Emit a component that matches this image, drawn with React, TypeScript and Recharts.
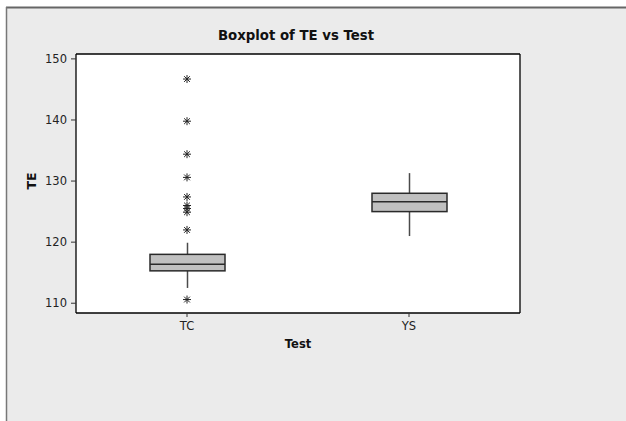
import React from 'react';
import { ComposedChart, Bar, Scatter, XAxis, YAxis, CartesianGrid } from 'recharts';

const categories = ['TC', 'YS'];
const whiskerLow = [112.5, 121.0];
const q1 = [115.3, 125.0];
const median = [116.4, 126.6];
const q3 = [118.0, 128.0];
const whiskerHigh = [119.9, 131.3];
const outlierCategory = ['TC', 'TC', 'TC', 'TC', 'TC', 'TC', 'TC', 'TC', 'TC', 'TC', 'YS'];
const outlierValues = [146.7, 139.8, 134.4, 130.6, 127.4, 126.0, 125.5, 124.9, 122.0, 110.6, null];
const yTicks = [110, 120, 130, 140, 150];
const yDomain = [108.4, 150.8];

const boxData = categories.map((c, i) => ({
  test: c,
  range: [whiskerLow[i], whiskerHigh[i]],
  lo: whiskerLow[i],
  q1: q1[i],
  med: median[i],
  q3: q3[i],
  hi: whiskerHigh[i],
}));

const outlierData = outlierValues.map((v, i) => ({ test: outlierCategory[i], te: v }));

const FONT = '"DejaVu Sans", Verdana, sans-serif';

const BoxShape = (props: any) => {
  const { x, y, width, height, payload } = props;
  if (payload == null || x == null) return null;
  const top = Math.min(y, y + height);
  const h = Math.abs(height);
  const { lo, hi } = payload;
  const toPx = (v: number) => top + ((hi - v) / (hi - lo)) * h;
  const cx = x + width / 2;
  const yQ3 = toPx(payload.q3);
  const yQ1 = toPx(payload.q1);
  const yMed = toPx(payload.med);
  return (
    <g>
      <line x1={cx} x2={cx} y1={top} y2={yQ3} stroke="#4a4a4a" strokeWidth={1.5} />
      <line x1={cx} x2={cx} y1={yQ1} y2={top + h} stroke="#4a4a4a" strokeWidth={1.5} />
      <rect x={x} y={yQ3} width={width} height={yQ1 - yQ3} fill="#c0c0c0" stroke="#2a2a2a" strokeWidth={1.5} />
      <line x1={x} x2={x + width} y1={yMed} y2={yMed} stroke="#2a2a2a" strokeWidth={1.5} />
    </g>
  );
};

const Asterisk = (props: any) => {
  const { cx, cy, payload } = props;
  if (cx == null || cy == null || !isFinite(cx) || !isFinite(cy)) return null;
  if (payload && payload.te == null) return null;
  const r = 4;
  const d = r * 0.72;
  return (
    <g stroke="#222" strokeWidth={1}>
      <line x1={cx - r} x2={cx + r} y1={cy} y2={cy} />
      <line x1={cx} x2={cx} y1={cy - r} y2={cy + r} />
      <line x1={cx - d} x2={cx + d} y1={cy - d} y2={cy + d} />
      <line x1={cx - d} x2={cx + d} y1={cy + d} y2={cy - d} />
    </g>
  );
};

export default function App() {
  return (
    <div style={{ position: 'absolute', left: 0, top: 0, width: 626, height: 421, background: '#fff' }}>
      <svg width={626} height={421} style={{ position: 'absolute', left: 0, top: 0 }}>
        <rect x={6} y={7} width={620} height={414} fill="#ebebeb" />
        <line x1={6} x2={626} y1={7.5} y2={7.5} stroke="#666" strokeWidth={2} />
        <line x1={6.5} x2={6.5} y1={7} y2={421} stroke="#777" strokeWidth={1.5} />
      </svg>
      <div style={{ position: 'absolute', left: 0, top: 0 }}>
        <ComposedChart
          width={626}
          height={421}
          data={boxData}
          margin={{ top: 53, right: 105, bottom: 68, left: 0 }}
        >
          <CartesianGrid horizontal={false} vertical={false} fill="#ffffff" fillOpacity={1} />
          <XAxis
            dataKey="test"
            type="category"
            allowDuplicatedCategory={false}
            height={40}
            tickSize={4}
            tickMargin={5}
            axisLine={{ stroke: '#000', strokeWidth: 1.3 }}
            tickLine={{ stroke: '#333' }}
            tick={{ fill: '#222', fontSize: 11.5, fontFamily: FONT }}
          />
          <XAxis
            xAxisId="top"
            orientation="top"
            dataKey="test"
            type="category"
            allowDuplicatedCategory={false}
            height={1}
            tick={false}
            tickLine={false}
            axisLine={{ stroke: '#000', strokeWidth: 1.3 }}
          />
          <YAxis
            type="number"
            domain={yDomain}
            ticks={yTicks}
            width={76}
            tickSize={5}
            tickMargin={4}
            axisLine={{ stroke: '#000', strokeWidth: 1.3 }}
            tickLine={{ stroke: '#333' }}
            tick={{ fill: '#222', fontSize: 11.5, fontFamily: FONT }}
          />
          <YAxis
            yAxisId="right"
            orientation="right"
            type="number"
            domain={yDomain}
            ticks={yTicks}
            width={1}
            tick={false}
            tickLine={false}
            axisLine={{ stroke: '#000', strokeWidth: 1.3 }}
          />
          <Bar dataKey="range" barSize={75} shape={<BoxShape />} isAnimationActive={false} />
          <Scatter
            data={outlierData}
            dataKey="te"
            xAxisId="top"
            yAxisId="right"
            shape={<Asterisk />}
            isAnimationActive={false}
          />
        </ComposedChart>
      </div>
      <svg width={626} height={421} style={{ position: 'absolute', left: 0, top: 0, pointerEvents: 'none' }}>
        <text x={296} y={40} textAnchor="middle" fontFamily={FONT} fontWeight="bold" fontSize={13.3} fill="#111">
          Boxplot of TE vs Test
        </text>
        <text x={298} y={348} textAnchor="middle" fontFamily={FONT} fontWeight="bold" fontSize={11.5} fill="#111">
          Test
        </text>
        <text
          x={35.5}
          y={181}
          textAnchor="middle"
          fontFamily={FONT}
          fontWeight="bold"
          fontSize={12.5}
          fill="#111"
          transform="rotate(-90 35.5 181)"
        >
          TE
        </text>
      </svg>
    </div>
  );
}
